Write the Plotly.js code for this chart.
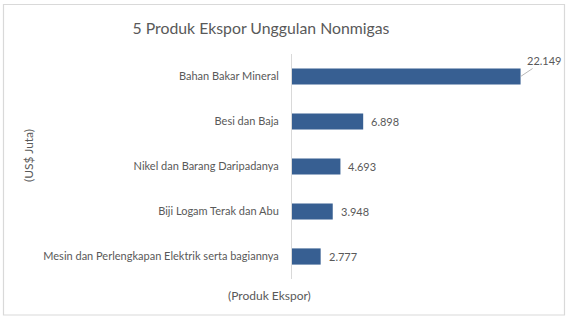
<!DOCTYPE html>
<html>
<head>
<meta charset="utf-8">
<script src="https://cdn.plot.ly/plotly-3.0.1.min.js"></script>
<style>html,body{margin:0;padding:0;background:#fff;}#chart{width:569px;height:318px;}</style>
</head>
<body>
<div id="chart"></div>
<script>
const categories = [
  "Bahan Bakar Mineral",
  "Besi dan Baja",
  "Nikel dan Barang Daripadanya",
  "Biji Logam Terak dan Abu",
  "Mesin dan Perlengkapan Elektrik serta bagiannya"
];
const values = [22149, 6898, 4693, 3948, 2777];
const titleText = "5 Produk Ekspor Unggulan Nonmigas";
const yTitleText = "(US$ Juta)";
const xTitleText = "(Produk Ekspor)";

const W = 569, H = 318;
const M = {l: 292, r: 19, t: 54, b: 39};
const PW = W - M.l - M.r, PH = H - M.t - M.b;
const px = x => (x - M.l) / PW;
const py = y => (H - M.b - y) / PH;

function fmt(v){ return String(v).replace(/\B(?=(\d{3})+(?!\d))/g, '.'); }

const FONT = "Lato, 'Open Sans', sans-serif";
const TXT = "#595959";

const annotations = values.map((v, i) => {
  if (i === 0) {
    return {x: v, y: categories[i], xref: 'x', yref: 'y', text: fmt(v),
      showarrow: true, arrowhead: 0, arrowwidth: 0.8, arrowcolor: '#a6a6a6',
      ax: 24, ay: -16, standoff: 0, startstandoff: 0,
      font: {family: FONT, size: 11, color: TXT}};
  }
  return {x: v, y: categories[i], xref: 'x', yref: 'y', text: fmt(v),
    showarrow: false, xanchor: 'left', xshift: 6,
    font: {family: FONT, size: 11, color: TXT}};
});
annotations.push({x: px(28), y: py(156), xref: 'paper', yref: 'paper', text: yTitleText,
  xanchor: 'center', yanchor: 'middle',
  showarrow: false, textangle: -90, font: {family: FONT, size: 12, color: TXT}});
annotations.push({x: px(269), y: py(295.5), xref: 'paper', yref: 'paper', text: xTitleText,
  xanchor: 'center', yanchor: 'middle',
  showarrow: false, font: {family: FONT, size: 12, color: TXT}});

const trace = {
  type: 'bar', orientation: 'h',
  x: values, y: categories,
  marker: {color: '#375F92'},
  hoverinfo: 'none'
};

const layout = {
  width: W, height: H,
  margin: M,
  paper_bgcolor: '#fff', plot_bgcolor: '#fff',
  bargap: 0.64,
  showlegend: false,
  title: {text: titleText, xref: 'container', yref: 'container', x: 261/W, y: 1 - 28/H,
    xanchor: 'center', yanchor: 'middle',
    font: {family: FONT, size: 15.8, color: TXT}},
  xaxis: {range: [0, 25000], visible: false, showgrid: false, zeroline: false, fixedrange: true},
  yaxis: {autorange: 'reversed', showline: true, linecolor: '#d9d9d9', linewidth: 1,
    ticks: '', ticklabelstandoff: 10, showgrid: false, zeroline: false,
    tickfont: {family: FONT, size: 11, color: TXT}},
  annotations: annotations,
  shapes: [{type: 'rect', xref: 'paper', yref: 'paper', x0: px(3.5), x1: px(564.5), y0: py(4.5), y1: py(315),
    line: {color: '#d9d9d9', width: 1.2}, fillcolor: 'rgba(0,0,0,0)', layer: 'below'}]
};

Plotly.newPlot('chart', [trace], layout, {displayModeBar: false, staticPlot: true});
</script>
</body>
</html>
